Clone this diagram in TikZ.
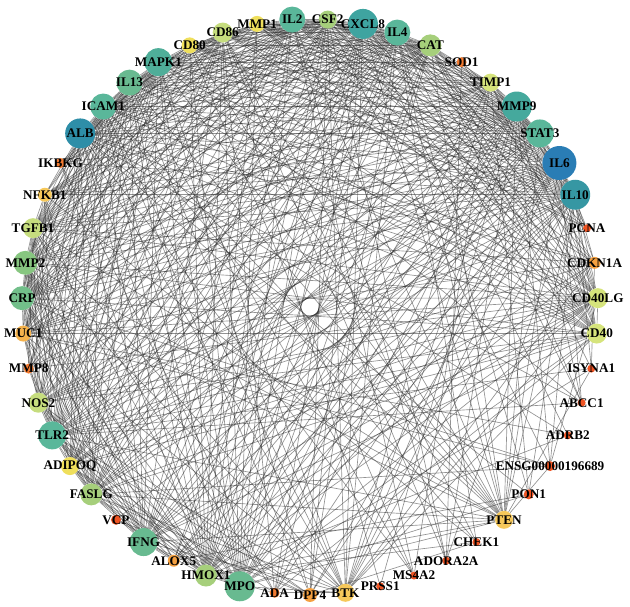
\documentclass[tikz,border=0pt]{standalone}
\usepackage{fontspec}
\setmainfont{Liberation Serif}
\pgfdeclarelayer{bg}
\pgfsetlayers{bg,main}
\definecolor{cBlue}{HTML}{2A7DB5}
\definecolor{cAlb}{HTML}{2E8EA8}
\definecolor{cIlt}{HTML}{3697A3}
\definecolor{cTeal}{HTML}{3FA4A0}
\definecolor{cMmpn}{HTML}{45A99D}
\definecolor{cMapk}{HTML}{4FAE99}
\definecolor{cGt}{HTML}{5AB79A}
\definecolor{cG}{HTML}{68BA90}
\definecolor{cCrp}{HTML}{72BF8A}
\definecolor{cMmpt}{HTML}{87C680}
\definecolor{cLg}{HTML}{A6CF7B}
\definecolor{cYg}{HTML}{C6DD7E}
\definecolor{cPy}{HTML}{D6E47C}
\definecolor{cY}{HTML}{EFDF5C}
\definecolor{cYo}{HTML}{F6C85A}
\definecolor{cMuc}{HTML}{F5B24C}
\definecolor{cO}{HTML}{F4A040}
\definecolor{cOr}{HTML}{F27A30}
\definecolor{cR}{HTML}{EF5423}
\def\genelist{CSF2/9/cLg, CXCL8/15/cTeal, IL4/13/cGt, CAT/11/cLg, SOD1/5/cOr, TIMP1/9/cPy, MMP9/15/cMmpn, STAT3/14/cGt, IL6/17/cBlue, IL10/15/cIlt,
PCNA/4/cR, CDKN1A/6/cO, CD40LG/10/cPy, CD40/10/cPy, ISYNA1/4/cR, ABCC1/4/cR, ADRB2/4/cR, ENSG00000196689/5/cR, PON1/5/cR, PTEN/9/cYo,
CHEK1/4/cR, ADORA2A/4/cR, MS4A2/4/cR, PRSS1/4/cR, BTK/9/cYo, DPP4/7/cO, ADA/5/cOr, MPO/15/cG, HMOX1/11/cLg, ALOX5/6/cO,
IFNG/14/cG, VCP/5/cR, FASLG/11/cLg, ADIPOQ/9/cY, TLR2/14/cGt, NOS2/10/cYg, MMP8/5/cOr, MUC1/8/cMuc, CRP/12/cCrp, MMP2/12/cMmpt,
TGFB1/10/cYg, NFKB1/7/cYo, IKBKG/5/cOr, ALB/15/cAlb, ICAM1/13/cGt, IL13/13/cG, MAPK1/14/cMapk, CD80/8/cY, CD86/10/cYg, MMP1/8/cY, IL2/13/cGt}
\def\degs{{20,42,34,24,4,18,40,36,48,42,3,8,20,20,3,3,3,4,4,14,3,3,3,3,14,8,5,36,24,8,34,4,24,16,34,20,5,12,30,28,22,12,5,44,34,32,38,14,20,12,34}}
\begin{document}
\begin{tikzpicture}[x=1pt,y=-1pt,
  gene/.style={circle,inner sep=0pt,draw=none},
  glabel/.style={font=\fontsize{13.2}{14}\selectfont\bfseries,inner sep=0pt,text=black},
  edge/.style={draw=black!85,line width=0.65pt,opacity=0.5}]
\useasboundingbox (0,0) rectangle (630,607);
\def\Rad{288}
\foreach \g/\r/\c [count=\k from 0] in \genelist {
  \pgfmathsetmacro\ang{86.47-7.0588*\k}
  \node[gene,fill=\c,minimum size={2*\r pt},alias=n\k] (\g) at ({310+\Rad*cos(\ang)},{307-\Rad*sin(\ang)}) {};
}
\pgfmathsetseed{7}
\begin{pgfonlayer}{bg}
\foreach \i in {0,...,49}{
  \pgfmathtruncatemacro\jstart{\i+1}
  \foreach \j in {\jstart,...,50}{
    \pgfmathsetmacro\p{1.7*\degs[\i]*\degs[\j]/970}
    \pgfmathtruncatemacro\hit{rnd<\p}
    \ifnum\hit=1 \draw[edge] (n\i) -- (n\j); \fi
  }
}
\end{pgfonlayer}
\foreach \g/\r/\c [count=\k from 0] in \genelist {
  \node[glabel] (l\k) at (n\k) {\g};
}
\end{tikzpicture}
\end{document}
